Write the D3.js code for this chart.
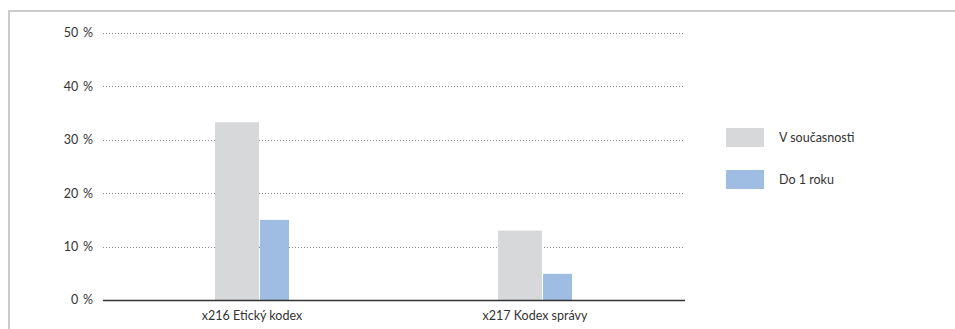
<!DOCTYPE html>
<html><head><meta charset="utf-8">
<script src="https://cdn.jsdelivr.net/npm/d3@7"></script>
<style>body{margin:0;background:#fff}svg{display:block}text{font-family:Lato,"Open Sans",sans-serif;fill:#333}</style>
</head><body><svg id="c" width="955" height="329"></svg>
<script>
const categories = ["x216 Etický kodex", "x217 Kodex správy"];
const seriesNames = ["V současnosti", "Do 1 roku"];
const seriesNow = [33.3, 13.0];
const seriesYear = [15.0, 4.9];
const yTicks = [0, 10, 20, 30, 40, 50];
const colors = ["#d7d8da", "#9fbde2"];

const svg = d3.select("#c");
// frame
svg.append("path").attr("d","M9,329 V11 H955").attr("fill","none").attr("stroke","#cccccc").attr("stroke-width",2);

const y = d3.scaleLinear().domain([0,50]).range([300,33]);
const x = d3.scaleBand().domain(categories).range([110.5,676.5]).padding(0);
const gx0 = 103, gx1 = 685;

// grid
svg.append("g").selectAll("line").data(yTicks.filter(d=>d>0)).join("line")
  .attr("x1",gx0).attr("x2",gx1).attr("y1",d=>Math.round(y(d))+0.5).attr("y2",d=>Math.round(y(d))+0.5)
  .attr("stroke","#8a8a8a").attr("stroke-width",1).attr("stroke-dasharray","1,2");
// y labels
svg.append("g").selectAll("text").data(yTicks).join("text")
  .attr("x",93).attr("y",d=>y(d)).attr("dy","0.35em").attr("text-anchor","end")
  .style("font-size","12.5px").style("word-spacing","1.5px").text(d=>d+" %");

const data = [seriesNow, seriesYear];
const offs = [[-37,44],[8,29]];
data.forEach((vals,si)=>{
  svg.append("g").selectAll("rect").data(categories).join("rect")
    .attr("x",(c)=>x(c)+x.bandwidth()/2+offs[si][0])
    .attr("width",offs[si][1])
    .attr("y",(c,i)=>y(vals[i]))
    .attr("height",(c,i)=>y(0)-y(vals[i]))
    .attr("fill",colors[si]);
});
// axis line
svg.append("line").attr("x1",gx0).attr("x2",gx1).attr("y1",300.5).attr("y2",300.5).attr("stroke","#333").attr("stroke-width",1.6);
// category labels
svg.append("g").selectAll("text").data(categories).join("text")
  .attr("x",c=>x(c)+x.bandwidth()/2).attr("y",316).attr("dy","0.35em").attr("text-anchor","middle")
  .style("font-size","12.5px").text(c=>c);
// legend
const lg = svg.append("g");
seriesNames.forEach((n,i)=>{
  lg.append("rect").attr("x",726).attr("y",128+i*42).attr("width",38).attr("height",19).attr("fill",colors[i]);
  lg.append("text").attr("x",779).attr("y",137.5+i*42).attr("dy","0.35em").style("font-size","12.5px").text(n);
});
</script></body></html>
